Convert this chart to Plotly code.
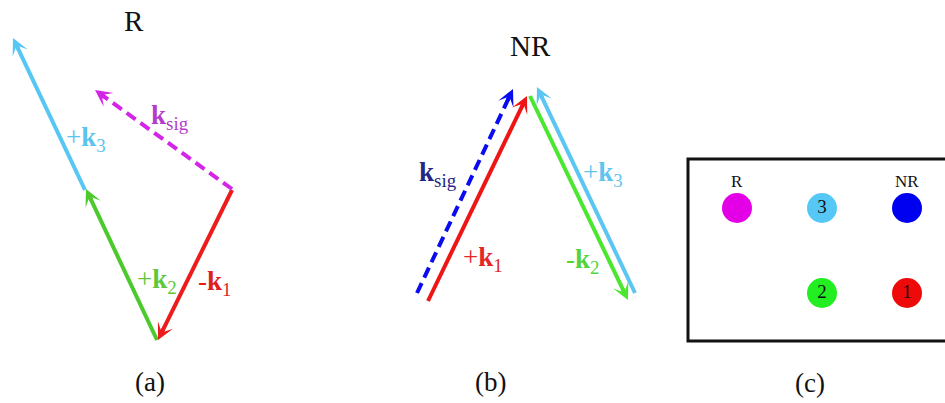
import numpy as np
import plotly.graph_objects as go

# ---- wave-vector diagrams (canvas units, y grows downward) ----
# panel (a): resonant geometry
a_tails = [(85, 190), (157, 340), (232, 190), (232, 189)]
a_heads = [(13, 38), (86, 189), (158, 340), (95, 90)]
a_colors = ["#56C7F4", "#4CC92C", "#EC1C1C", "#D324E8"]
a_dashed = [False, False, False, True]

# panel (b): non-resonant geometry
b_tails = [(417, 293), (428, 301), (530, 96), (635, 293)]
b_heads = [(513, 89), (527, 96), (628, 300), (537, 87)]
b_colors = ["#0B0BEF", "#EE1515", "#4BE62F", "#5CC6F2"]
b_dashed = [True, False, False, False]

# vector labels: text, position, colour
vec_labels = [
    ("+<b>k</b><sub>3</sub>", (86, 139), "#5BC4EE"),
    ("<b>k</b><sub>sig</sub>", (170, 117), "#B53BCB"),
    ("+<b>k</b><sub>2</sub>", (157, 281), "#5CC83A"),
    ("-<b>k</b><sub>1</sub>", (214, 283), "#E01E1E"),
    ("<b>k</b><sub>sig</sub>", (438, 174), "#262686"),
    ("+<b>k</b><sub>1</sub>", (483, 259), "#E42626"),
    ("-<b>k</b><sub>2</sub>", (582, 261), "#55D43A"),
    ("+<b>k</b><sub>3</sub>", (603, 174), "#5FC5EE"),
]

titles = [("R", (134, 21)), ("NR", (530, 46))]
captions = [("(a)", (150, 382)), ("(b)", (490, 382)), ("(c)", (810, 383))]

# panel (c): beam legend
dot_x = [737, 822, 907, 822, 907]
dot_y = [208, 208, 208, 293, 293]
dot_colors = ["#E400E6", "#56C8F6", "#0000F0", "#22EE22", "#EE0A0A"]
dot_text = ["", "3", "", "2", "1"]
dot_labels = [("R", (737, 181)), ("NR", (907, 181))]
box = (688, 159, 990, 341)

SERIF = "Liberation Serif, Times New Roman, serif"

fig = go.Figure()
annotations = []


def add_arrow(tail, head, color, dashed):
    t = np.array(tail, float)
    h = np.array(head, float)
    u = (h - t) / np.linalg.norm(h - t)
    shaft_end = h - u * 9
    fig.add_trace(go.Scatter(
        x=[t[0], shaft_end[0]], y=[t[1], shaft_end[1]], mode="lines",
        line=dict(color=color, width=4, dash="11px,6px" if dashed else "solid"),
        hoverinfo="skip", showlegend=False))
    back = h - u * 14
    annotations.append(dict(
        x=h[0], y=h[1], ax=back[0], ay=back[1], xref="x", yref="y",
        axref="x", ayref="y", text="", showarrow=True, arrowhead=3,
        arrowsize=0.7, arrowwidth=4, arrowcolor=color, standoff=0))


for tails, heads, cols, dsh in [(a_tails, a_heads, a_colors, a_dashed),
                                (b_tails, b_heads, b_colors, b_dashed)]:
    for t, h, c, d in zip(tails, heads, cols, dsh):
        add_arrow(t, h, c, d)

for txt, (x, y), c in vec_labels:
    annotations.append(dict(x=x, y=y, text=txt, showarrow=False, xref="x", yref="y",
                            font=dict(family=SERIF, size=27, color=c)))

for txt, (x, y) in titles:
    annotations.append(dict(x=x, y=y, text=txt, showarrow=False, xref="x", yref="y",
                            font=dict(family=SERIF, size=29, color="#111111")))

for txt, (x, y) in captions:
    annotations.append(dict(x=x, y=y, text=txt, showarrow=False, xref="x", yref="y",
                            font=dict(family=SERIF, size=27, color="#111111")))

for txt, (x, y) in dot_labels:
    annotations.append(dict(x=x, y=y, text=txt, showarrow=False, xref="x", yref="y",
                            font=dict(family=SERIF, size=17, color="#111111")))

fig.add_trace(go.Scatter(
    x=dot_x, y=dot_y, mode="markers+text", text=dot_text,
    textposition="middle center",
    textfont=dict(family=SERIF, size=19, color="#111111"),
    marker=dict(size=30, color=dot_colors, line=dict(width=0)),
    hoverinfo="skip", showlegend=False))

fig.add_shape(type="rect", xref="x", yref="y", x0=box[0], y0=box[1], x1=box[2], y1=box[3],
              line=dict(color="#111111", width=3))

fig.update_layout(
    width=945, height=403, margin=dict(l=0, r=0, t=0, b=0),
    paper_bgcolor="white", plot_bgcolor="white", annotations=annotations,
    xaxis=dict(range=[0, 945], visible=False, showgrid=False, zeroline=False, fixedrange=True),
    yaxis=dict(range=[403, 0], visible=False, showgrid=False, zeroline=False, fixedrange=True),
)

fig.write_html("out.html", config={"displayModeBar": False})
